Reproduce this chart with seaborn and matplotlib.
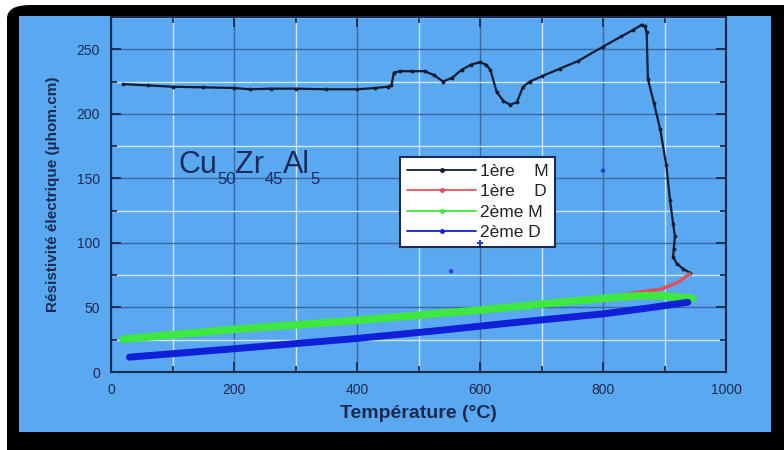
import numpy as np
import pandas as pd
import matplotlib
matplotlib.use("Agg")
import matplotlib.pyplot as plt
from matplotlib.patches import FancyBboxPatch, Rectangle
from matplotlib.lines import Line2D
from matplotlib.ticker import MultipleLocator
import seaborn as sns

# values
temp_1M = [20, 60, 100, 150, 200, 226, 260, 300, 350, 400, 430, 450, 456, 460, 470, 490,
           510, 525, 540, 555, 570, 585, 600, 610, 617, 627, 638, 649, 660, 670, 681, 700,
           730, 760, 800, 830, 849, 863, 868, 871, 873, 883, 893, 903, 909, 914, 917, 915,
           914, 920, 930, 941]
rho_1M = [223, 222, 221, 220.5, 220, 219, 219.5, 219.5, 219, 219, 220, 221, 222, 232, 233, 233,
          233, 230, 225, 228, 234, 238, 240, 238, 234, 217, 210, 207, 209, 221, 225, 229,
          235, 241, 252, 260, 265, 269, 268, 263, 227, 208, 188, 160, 133, 115, 105, 95,
          89, 84, 80, 77]

temp_1D = [30, 200, 400, 600, 800, 860, 893, 920, 941]
rho_1D = [25.5, 33, 40, 48, 57, 62, 64, 69, 76]

temp_2M = [20, 200, 400, 600, 730, 800, 860, 900, 946]
rho_2M = [25.5, 33, 40, 48, 54, 57, 59, 59, 57]

temp_2D = [30, 200, 400, 530, 650, 800, 880, 938]
rho_2D = [11.5, 18, 26, 32, 38, 45, 50, 54]

# stray points
stray_temp = [800, 553]
stray_rho = [156, 78]
stray_top_temp = [600]
stray_top_rho = [100]
stray2_temp = [486]
stray2_rho = [129]

labels = ["1ère    M", "1ère    D", "2ème M", "2ème D"]
colors = ["#0f1c33", "#e0505a", "#3ee83e", "#1020d8"]

df = pd.concat([
    pd.DataFrame({"T": temp_1M, "rho": rho_1M, "serie": labels[0]}),
    pd.DataFrame({"T": temp_1D, "rho": rho_1D, "serie": labels[1]}),
    pd.DataFrame({"T": temp_2M, "rho": rho_2M, "serie": labels[2]}),
    pd.DataFrame({"T": temp_2D, "rho": rho_2D, "serie": labels[3]}),
], ignore_index=True)

bg = "#5aa8f0"
navy = "#1c2a50"

sns.set_style("ticks")
plt.rcParams["font.family"] = ["Liberation Sans", "DejaVu Sans"]

fig = plt.figure(figsize=(7.84, 4.5), dpi=100)
fig.patch.set_facecolor("white")
# black rounded frame + blue panel (behind the axes)
fig.patches.append(FancyBboxPatch((7 / 784, -0.05), 1.05, 1.05 - 5 / 450,
                                  boxstyle="round,pad=0,rounding_size=0.03",
                                  transform=fig.transFigure, facecolor="black",
                                  edgecolor="none", zorder=-3))
fig.patches.append(Rectangle((19 / 784, 1 - 432 / 450), (771 - 19) / 784, (432 - 16) / 450,
                             transform=fig.transFigure, facecolor=bg, edgecolor="none",
                             zorder=-2))

ax = fig.add_axes([111 / 784, 1 - 372 / 450, (726 - 111) / 784, (372 - 17) / 450])
ax.set_facecolor(bg)

widths = {labels[0]: 1.6, labels[1]: 2.5, labels[2]: 5.5, labels[3]: 5.0}
for lab, col in zip(labels, colors):
    sub = df[df["serie"] == lab]
    sns.lineplot(data=sub, x="T", y="rho", color=col, sort=False, estimator=None,
                 lw=widths[lab], marker="." if lab == labels[0] else None,
                 markersize=4, mec=col, mfc=col, ax=ax, zorder=3)

sns.scatterplot(x=stray_temp, y=stray_rho, color="#2040d0", s=10, marker="o",
                edgecolor="none", ax=ax, zorder=3)
sns.scatterplot(x=stray_top_temp, y=stray_top_rho, color="#2040d0", s=25, marker="+",
                linewidth=1.5, ax=ax, zorder=7)
sns.scatterplot(x=stray2_temp, y=stray2_rho, color="#b030c0", s=14, marker="+", ax=ax, zorder=3)

ax.set_xlim(0, 1000)
ax.set_ylim(0, 275)
ax.xaxis.set_major_locator(MultipleLocator(200))
ax.xaxis.set_minor_locator(MultipleLocator(100))
ax.yaxis.set_major_locator(MultipleLocator(50))
ax.yaxis.set_minor_locator(MultipleLocator(25))
ax.grid(which="major", color="#3a6aa0", lw=1.0, zorder=0)
ax.grid(which="minor", color="#cfe6fb", lw=1.0, zorder=0)
ax.set_axisbelow(True)
ax.tick_params(which="both", direction="in", top=True, right=True, colors=navy,
               labelsize=10, width=1.3)
ax.tick_params(which="major", length=7, pad=8)
ax.tick_params(which="minor", length=4)
for s in ax.spines.values():
    s.set_color(navy)
    s.set_linewidth(1.5)

ax.set_xlabel("Température (°C)", fontsize=14, fontweight="bold", color=navy, labelpad=6)
ax.set_ylabel("Résistivité électrique (µhom.cm)", fontsize=11, fontweight="bold",
              color=navy, labelpad=12)

# Cu50Zr45Al5 with large, low subscripts
formula = [("Cu", False), ("50", True), ("Zr", False), ("45", True), ("Al", False), ("5", True)]
tcol = "#1a2b5e"
first = ax.text(109, 154, formula[0][0], fontsize=22, color=tcol,
                ha="left", va="baseline", zorder=4)
prev = first
for piece, is_sub in formula[1:]:
    if is_sub:
        prev = ax.annotate(piece, xy=(1, 0), xycoords=(prev, first), xytext=(0, -3),
                           textcoords="offset points", fontsize=12, color=tcol,
                           ha="left", va="baseline", zorder=4)
    else:
        prev = ax.annotate(piece, xy=(1, 0), xycoords=(prev, first), xytext=(0, 0),
                           textcoords="offset points", fontsize=22, color=tcol,
                           ha="left", va="bottom", zorder=4)

handles = [Line2D([], [], color=c, lw=1.3, marker=".", markersize=5) for c in colors]
leg = ax.legend(handles, labels, loc="upper left", bbox_to_anchor=(0.47, 0.606),
                borderaxespad=0, fontsize=12.5, labelspacing=0.3, handlelength=4.0,
                handletextpad=0.2, frameon=True, fancybox=False, borderpad=0.4)
leg.get_frame().set_edgecolor(navy)
leg.get_frame().set_linewidth(1.5)
leg.get_frame().set_facecolor("white")
leg.get_frame().set_alpha(1)
for t in leg.get_texts():
    t.set_color("#222")
leg.set_zorder(5)

fig.savefig("out.png", dpi=100, facecolor=fig.get_facecolor())
